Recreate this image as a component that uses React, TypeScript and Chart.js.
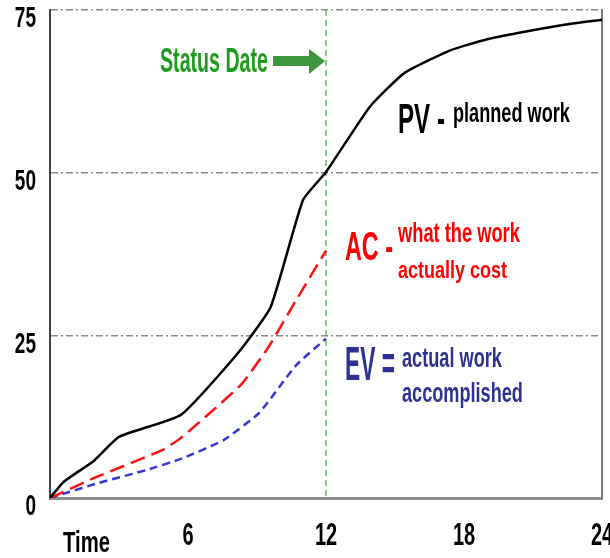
import React, { useEffect, useRef } from "react";
import { Chart, registerables } from "chart.js";

Chart.register(...registerables);

// ---- data ----
const pvX = [0, 0.6, 1.9, 3.0, 5.7, 8.2, 9.6, 11.0, 12, 13.9, 15.4, 17.4, 18.9, 20.4, 22.3, 24];
const pvY = [0, 2.5, 5.7, 9.4, 12.8, 22.4, 29.4, 45.8, 50.1, 60.1, 65.3, 68.8, 70.4, 71.5, 72.7, 73.5];
const acX = [0, 2.0, 4.9, 5.75, 8.3, 9.5, 10.7, 12];
const acY = [0, 3.2, 7.4, 9.4, 17.4, 23.2, 30.4, 38];
const evX = [0, 2.1, 4.2, 5.75, 7.55, 9.1, 10.7, 12];
const evY = [0, 2.3, 4.3, 6.1, 8.9, 13.1, 20.4, 24.5];
const statusDate = 12;
const xTickValues = [6, 12, 18, 24];
const yTickValues = [0, 25, 50, 75];
const xTitle = "Time";

const FONT = '"Liberation Sans", Arial, sans-serif';
const TICK_STRETCH = 1.6;

const pts = (xs: number[], ys: number[]) => xs.map((x, i) => ({ x, y: ys[i] }));

function drawFit(ctx: CanvasRenderingContext2D, text: string, left: number, baseline: number, width: number, cap: number, color: string) {
  ctx.save();
  ctx.font = `bold 100px ${FONT}`;
  const w = ctx.measureText(text).width;
  const size = (100 * width) / w;
  ctx.font = `bold ${size}px ${FONT}`;
  const capH = ctx.measureText("H").actualBoundingBoxAscent || size * 0.716;
  const sy = cap / capH;
  ctx.translate(left, baseline);
  ctx.scale(1, sy);
  ctx.fillStyle = color;
  ctx.textAlign = "left";
  ctx.textBaseline = "alphabetic";
  ctx.fillText(text, 0, 0);
  ctx.restore();
}

// draw the axis' own tick labels (positions computed by Chart.js) with a tall, narrow look
function stretchLabels(s: any) {
  if (s._stretchPatched) return;
  s._stretchPatched = true;
  s.drawLabels = function (area: any) {
    if (!this.options.ticks.display) return;
    const ctx = this.ctx;
    const items = this.getLabelItems(area);
    for (const item of items) {
      const o = item.options;
      ctx.save();
      ctx.translate(o.translation[0], o.translation[1]);
      ctx.scale(1, TICK_STRETCH);
      ctx.font = item.font.string;
      ctx.fillStyle = o.color;
      ctx.textAlign = o.textAlign;
      ctx.textBaseline = o.textBaseline;
      ctx.fillText(String(item.label), 0, item.textOffset / TICK_STRETCH);
      ctx.restore();
    }
  };
  s.drawTitle = function () {
    const t = this.options.title;
    if (!t.display) return;
    drawFit(this.ctx, t.text, this.left + 13, 552, 47, 20, t.color);
  };
}

const annotationPlugin = {
  id: "evmAnnotations",
  beforeDatasetsDraw(chart: any) {
    const { ctx, chartArea, scales } = chart;
    const sx = scales.x.getPixelForValue(statusDate);
    ctx.save();
    ctx.strokeStyle = "#3aa83a";
    ctx.lineWidth = 1.2;
    ctx.setLineDash([6, 4]);
    ctx.beginPath();
    ctx.moveTo(sx, chartArea.top);
    ctx.lineTo(sx, chartArea.bottom);
    ctx.stroke();
    ctx.restore();
  },
  afterDraw(chart: any) {
    const { ctx, scales } = chart;
    const sx = scales.x.getPixelForValue(statusDate);
    ctx.save();
    ctx.fillStyle = "#3b963b";
    ctx.fillRect(273, 56, sx - 16 - 273, 10);
    ctx.beginPath();
    ctx.moveTo(sx - 17, 49);
    ctx.lineTo(sx - 1, 61);
    ctx.lineTo(sx - 17, 74);
    ctx.closePath();
    ctx.fill();
    ctx.restore();

    drawFit(ctx, "Status Date", 160, 72, 108, 25, "#1e9c1e");
    drawFit(ctx, "PV -", 398, 133, 47, 30, "#000000");
    drawFit(ctx, "planned work", 453, 122, 117, 20, "#000000");
    drawFit(ctx, "AC -", 345, 260, 48, 30, "#ff0000");
    drawFit(ctx, "what the work", 398, 242, 122, 19, "#ff0000");
    drawFit(ctx, "actually cost", 398, 278, 109, 17, "#ff0000");
    drawFit(ctx, "EV =", 345, 380, 50, 32, "#2e3192");
    drawFit(ctx, "actual work", 402, 367, 100, 20, "#2e3192");
    drawFit(ctx, "accomplished", 402, 402, 121, 20, "#2e3192");
  },
};

export default function App() {
  const ref = useRef<HTMLCanvasElement | null>(null);
  useEffect(() => {
    if (!ref.current) return;
    const chart = new Chart(ref.current, {
      type: "line",
      data: {
        datasets: [
          {
            label: "PV",
            data: pts(pvX, pvY),
            borderColor: "#000000",
            borderWidth: 2.5,
            pointRadius: 0,
            tension: 0.15,
            fill: false,
          },
          {
            label: "AC",
            data: pts(acX, acY),
            borderColor: "#ff1010",
            borderWidth: 2.5,
            borderDash: [15, 7],
            pointRadius: 0,
            tension: 0.15,
            fill: false,
          },
          {
            label: "EV",
            data: pts(evX, evY),
            borderColor: "#3535d8",
            borderWidth: 2.5,
            borderDash: [8, 5],
            pointRadius: 0,
            tension: 0.15,
            fill: false,
          },
        ],
      },
      options: {
        responsive: false,
        animation: false,
        devicePixelRatio: 1,
        layout: { padding: { top: 10, left: 0, right: 0, bottom: 0 } },
        plugins: { legend: { display: false }, tooltip: { enabled: false } },
        scales: {
          x: {
            type: "linear",
            min: 0,
            max: 24,
            afterBuildTicks: (s: any) => {
              s.ticks = xTickValues.map((value) => ({ value }));
            },
            afterFit: (s: any) => {
              s.height = 60;
              s.paddingLeft = 0;
              s.paddingRight = 0;
              stretchLabels(s);
            },
            grid: { display: false, drawTicks: false },
            border: { display: true, color: "#8c8c8c", width: 3 },
            ticks: {
              padding: 26,
              color: "#000000",
              font: { family: FONT, size: 20, weight: "bold" },
              maxRotation: 0,
              autoSkip: false,
            },
            title: {
              display: true,
              text: xTitle,
              align: "start",
              color: "#000000",
              font: { family: FONT, size: 20, weight: "bold" },
              padding: { top: 0, bottom: 2 },
            },
          },
          y: {
            type: "linear",
            position: "left",
            min: 0,
            max: 75,
            afterBuildTicks: (s: any) => {
              s.ticks = yTickValues.map((value) => ({ value }));
            },
            afterFit: (s: any) => {
              s.width = 50;
              s.paddingTop = 0;
              s.paddingBottom = 0;
              stretchLabels(s);
            },
            grid: {
              drawTicks: false,
              lineWidth: 1.5,
              color: (c: any) => (c.tick && c.tick.value === 0 ? "rgba(0,0,0,0)" : "#8a8a8a"),
            },
            border: { display: true, color: "#444444", width: 2, dash: [7, 3, 2, 3] },
            ticks: {
              padding: 14,
              labelOffset: 9,
              color: "#000000",
              font: { family: FONT, size: 19, weight: "bold" },
            },
          },
          yRight: {
            type: "linear",
            position: "right",
            min: 0,
            max: 75,
            afterFit: (s: any) => {
              s.width = 8;
              s.paddingTop = 0;
              s.paddingBottom = 0;
            },
            grid: { display: false, drawTicks: false },
            border: { display: true, color: "#7a7a7a", width: 2 },
            ticks: { display: false },
          },
        },
      },
      plugins: [annotationPlugin],
    } as any);
    return () => chart.destroy();
  }, []);
  return (
    <div style={{ position: "absolute", left: 0, top: 0, width: 610, height: 558, background: "#ffffff" }}>
      <canvas ref={ref} width={610} height={558} style={{ display: "block" }} />
    </div>
  );
}
